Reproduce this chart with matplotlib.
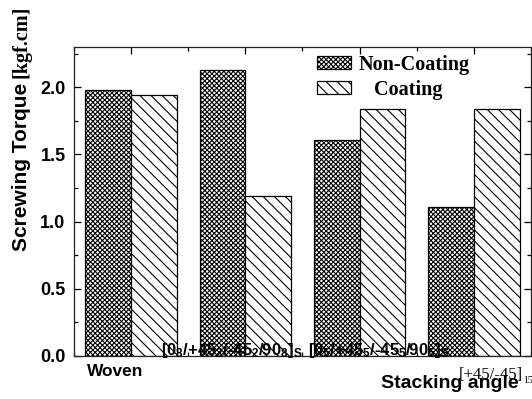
import numpy as np
import matplotlib
matplotlib.use('Agg')
import matplotlib.pyplot as plt
from matplotlib.ticker import MultipleLocator

# 数据
groups = ['Woven', '[0_8/+45_2/-45_2/90_8]_S', '[0_5/+45_5/-45_5/90_5]_S', '[+45/-45]_15']
non_coating = [1.98, 2.13, 1.61, 1.11]
coating = [1.94, 1.19, 1.84, 1.84]

plt.rcParams['font.family'] = ['Liberation Sans', 'DejaVu Sans']
plt.rcParams['font.weight'] = 'bold'
plt.rcParams['mathtext.fontset'] = 'custom'
plt.rcParams['mathtext.rm'] = 'Liberation Sans:bold'
plt.rcParams['mathtext.it'] = 'Liberation Sans:bold'
plt.rcParams['mathtext.bf'] = 'Liberation Sans:bold'
plt.rcParams['hatch.linewidth'] = 0.8

fig = plt.figure(figsize=(5.32, 3.99), dpi=100)
ax = fig.add_axes([0.139, 0.108, 0.859, 0.774])

x = np.arange(len(groups))
w = 0.4
ax.bar(x - w / 2, non_coating, w, facecolor='white', edgecolor='black',
       hatch='xxxxxxx', linewidth=0.9, label='Non-Coating')
ax.bar(x + w / 2, coating, w, facecolor='white', edgecolor='black',
       hatch='\\\\\\', linewidth=0.9, label='   Coating')

ax.set_xlim(-0.5, 3.5)
ax.set_ylim(0, 2.3)
ax.set_xticks(x)
ax.set_xticklabels([])
ax.xaxis.set_minor_locator(MultipleLocator(0.5))
ax.yaxis.set_minor_locator(MultipleLocator(0.25))
ax.set_yticks([0, 0.5, 1.0, 1.5, 2.0])
ax.set_yticklabels(['0.0', '0.5', '1.0', '1.5', '2.0'], fontsize=13, fontweight='bold')
ax.tick_params(which='both', direction='in', top=True, right=True, width=0.9)
ax.tick_params(which='major', length=5, pad=6)
ax.tick_params(which='minor', length=3)
for s in ax.spines.values():
    s.set_linewidth(0.9)
    s.set_color('#222222')

# x轴标签（位置与原图一样错落）
tr = ax.get_xaxis_transform()
ax.text(-0.14, -0.052, 'Woven', transform=tr, ha='center', va='center',
        fontsize=12.5, fontweight='bold')
ax.text(0.88, 0.003, '[0$_8$/+45$_2$/-45$_2$/90$_8$]$_S$', transform=tr,
        ha='center', va='baseline', fontsize=12, fontweight='bold')
ax.text(2.165, 0.003, '[0$_5$/+45$_5$/-45$_5$/90$_5$]$_S$', transform=tr,
        ha='center', va='baseline', fontsize=12, fontweight='bold')
ax.text(3.149, -0.074, '[+45/-45]', transform=tr, ha='center', va='baseline',
        fontsize=12, fontweight='normal', family='Liberation Serif', clip_on=False)
ax.text(3.43, -0.088, '15', transform=tr, ha='left', va='baseline',
        fontsize=7, fontweight='normal', family='Liberation Serif', clip_on=False)
ax.text(0.823, -0.104, 'Stacking angle', transform=ax.transAxes, ha='center',
        va='baseline', fontsize=14, fontweight='bold')

# y轴标签：无衬线 + 衬线单位
fig.text(0.041, 0.583, 'Screwing Torque', rotation=90, ha='center', va='center',
         fontsize=15, fontweight='bold')
fig.text(0.041, 0.895, '[kgf.cm]', rotation=90, ha='center', va='center',
         fontsize=14.5, fontweight='bold', family='Liberation Serif')

ax.legend(loc='upper left', bbox_to_anchor=(0.532, 0.975), frameon=False,
          prop={'family': 'Liberation Serif', 'weight': 'bold', 'size': 14.5},
          handlelength=1.7, handleheight=0.62, handletextpad=0.36,
          labelspacing=0.25, borderpad=0, borderaxespad=0)

fig.savefig('out.png', dpi=100)
